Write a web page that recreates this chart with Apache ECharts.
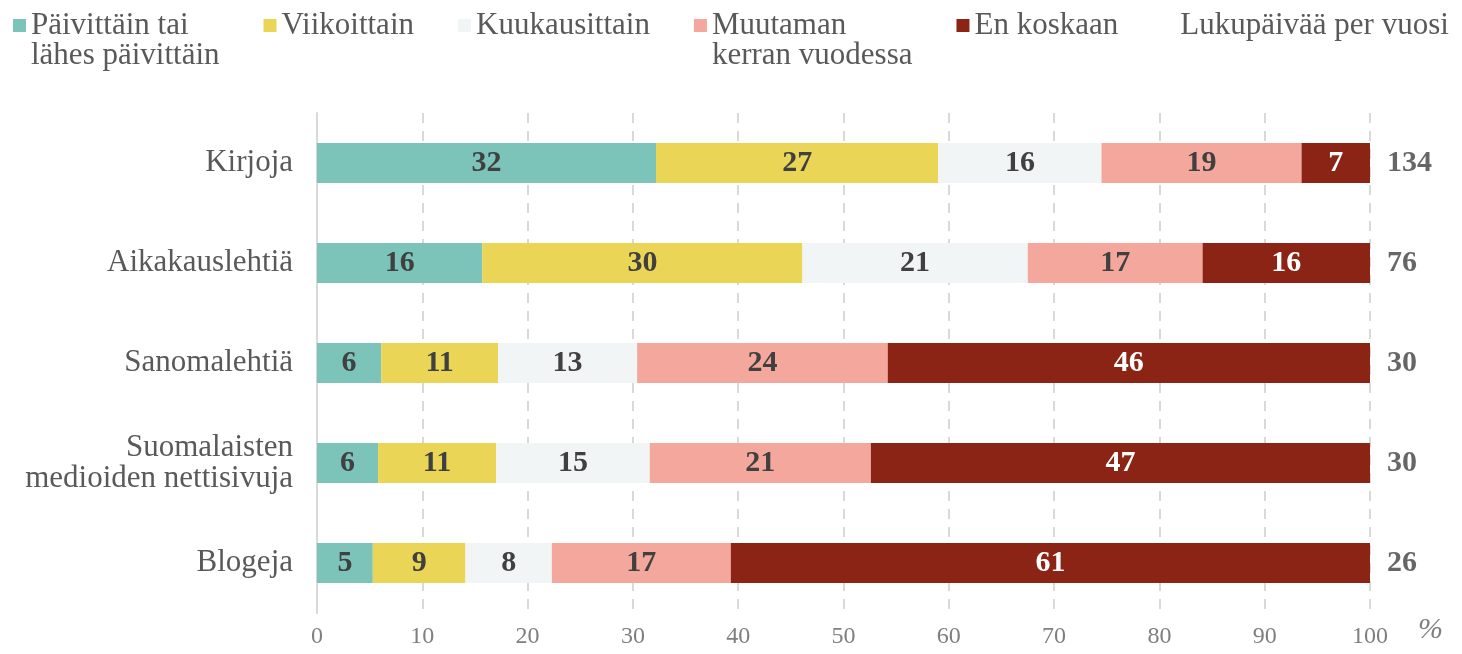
<!DOCTYPE html>
<html>
<head>
<meta charset="utf-8">
<script src="https://cdn.jsdelivr.net/npm/echarts@6/dist/echarts.min.js"></script>
<style>
  html, body { margin: 0; padding: 0; background: #fff; }
  #chart { width: 1462px; height: 654px; }
</style>
</head>
<body>
<div id="chart"></div>
<script>
// luokat (ylhäältä alas)
var categories = ["Kirjoja", "Aikakauslehtiä", "Sanomalehtiä", "Suomalaisten\nmedioiden nettisivuja", "Blogeja"];

// osuudet prosentteina
var paivittain = [32.2, 15.7, 6.1, 5.8, 5.3];
var viikoittain = [26.8, 30.4, 11.1, 11.2, 8.8];
var kuukausittain = [15.5, 21.4, 13.2, 14.6, 8.2];
var muutaman = [19.0, 16.6, 23.8, 21.0, 17.0];
var enKoskaan = [6.5, 15.9, 45.8, 47.4, 60.7];

// lukupäivää per vuosi
var lukupaivat = [134, 76, 30, 30, 26];

var xTicks = [0, 10, 20, 30, 40, 50, 60, 70, 80, 90, 100];

var FONT = "Liberation Serif";

function barSeries(name, data, color, labelColor) {
  return {
    name: name,
    type: "bar",
    stack: "total",
    barWidth: 40,
    data: data,
    itemStyle: { color: color },
    label: {
      show: true,
      position: "inside",
      fontFamily: FONT,
      fontSize: 30,
      fontWeight: "bold",
      color: labelColor,
      formatter: function (p) { return Math.round(p.value); }
    }
  };
}

var myChart = echarts.init(document.getElementById("chart"), null, { renderer: "canvas" });

myChart.setOption({
  animation: false,
  textStyle: { fontFamily: FONT },
  legend: {
    left: 8,
    top: -25,
    icon: "rect",
    itemWidth: 13,
    itemHeight: 13,
    itemGap: 44,
    textStyle: { fontFamily: FONT, fontSize: 31, color: "#595959", lineHeight: 30 },
    // kaksirivisissä ensimmäinen rivi samalle korkeudelle kuin merkki
    formatter: function (name) {
      return name.indexOf("\n") >= 0 ? "\n" + name : name;
    },
    data: [
      { name: "Päivittäin tai\nlähes päivittäin" },
      { name: "Viikoittain" },
      { name: "Kuukausittain" },
      { name: "Muutaman\nkerran vuodessa" },
      { name: "En koskaan" },
      { name: "Lukupäivää per vuosi", icon: "none" }
    ]
  },
  grid: {
    left: 317,
    right: 92,
    top: 113,
    bottom: 41
  },
  xAxis: {
    type: "value",
    min: 0,
    max: 100,
    interval: 10,
    name: "%",
    nameLocation: "end",
    nameGap: 48,
    nameTextStyle: {
      fontFamily: FONT,
      fontSize: 30,
      fontStyle: "italic",
      color: "#7f7f7f",
      verticalAlign: "top",
      padding: [2, 0, 0, 0]
    },
    axisLine: { show: false },
    axisTick: { show: false },
    axisLabel: {
      fontFamily: FONT,
      fontSize: 24,
      color: "#7f7f7f",
      margin: 12,
      formatter: function (v) { return xTicks.indexOf(v) >= 0 ? v : ""; }
    },
    splitLine: {
      show: true,
      lineStyle: { color: "#d9d9d9", width: 2, type: [10, 8] }
    }
  },
  yAxis: {
    type: "category",
    inverse: true,
    data: categories,
    axisLine: { show: true, lineStyle: { color: "#d9d9d9", width: 2 } },
    axisTick: { show: false },
    axisLabel: {
      fontFamily: FONT,
      fontSize: 31,
      lineHeight: 31,
      color: "#595959",
      margin: 24,
      align: "right"
    }
  },
  series: [
    barSeries("Päivittäin tai\nlähes päivittäin", paivittain, "#7cc4ba", "#404040"),
    barSeries("Viikoittain", viikoittain, "#ead556", "#404040"),
    barSeries("Kuukausittain", kuukausittain, "#f1f5f6", "#404040"),
    barSeries("Muutaman\nkerran vuodessa", muutaman, "#f4a79d", "#404040"),
    barSeries("En koskaan", enKoskaan, "#8b2414", "#ffffff"),
    {
      name: "Lukupäivää per vuosi",
      type: "scatter",
      symbolSize: 0,
      itemStyle: { color: "transparent" },
      data: lukupaivat.map(function (d, i) { return [100, i]; }),
      label: {
        show: true,
        position: "right",
        distance: 17,
        fontFamily: FONT,
        fontSize: 30,
        fontWeight: "bold",
        color: "#404040",
        formatter: function (p) { return lukupaivat[p.dataIndex]; }
      }
    }
  ]
});
</script>
</body>
</html>
